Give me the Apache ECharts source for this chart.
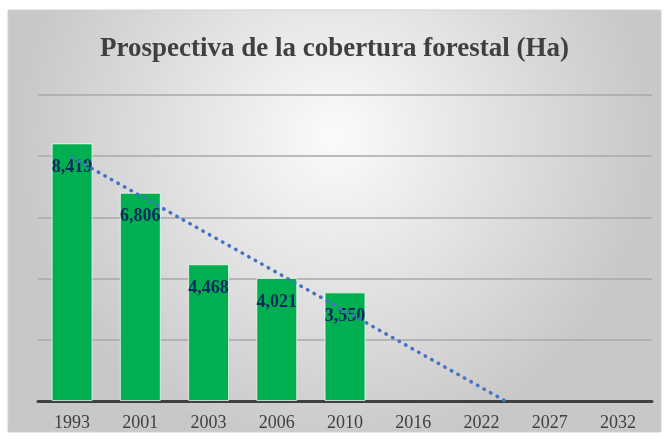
<!DOCTYPE html>
<html>
<head>
<meta charset="utf-8">
<script src="https://cdn.jsdelivr.net/npm/echarts@6/dist/echarts.min.js"></script>
<style>
  html, body { margin: 0; padding: 0; background: #fff; }
  #chart { width: 669px; height: 444px; }
</style>
</head>
<body>
<div id="chart"></div>
<script>
// valores
const years = ['1993', '2001', '2003', '2006', '2010', '2016', '2022', '2027', '2032']
const coverage = [8419, 6806, 4468, 4021, 3550, null, null, null, null]
// linea de tendencia (extremos, en indice de categoria)
const trendX = [0, 6.35]
const trendY = [7960, 0]

const serif = '"Liberation Serif", "DejaVu Serif", serif'
const chart = echarts.init(document.getElementById('chart'))

const option = {
  animation: false,
  title: {
    text: 'Prospectiva de la cobertura forestal (Ha)',
    left: 'center',
    top: 31,
    textStyle: { fontFamily: serif, fontSize: 27, fontWeight: 'bold', color: '#404040' }
  },
  graphic: [{
    type: 'rect',
    z: -10,
    shape: { x: 8, y: 10, width: 653, height: 422 },
    style: {
      fill: {
        type: 'radial', x: 0.5, y: 0.3, r: 0.75,
        colorStops: [{ offset: 0, color: '#fbfbfb' }, { offset: 1, color: '#c8c8c8' }]
      },
      stroke: '#d0d0d0', lineWidth: 1
    }
  }],
  grid: { left: 38, right: 17, top: 95, bottom: 43 },
  xAxis: [{
    type: 'category',
    data: years,
    axisLine: { lineStyle: { color: '#404040', width: 3 } },
    axisTick: { show: false },
    axisLabel: { fontFamily: serif, fontSize: 18, color: '#404040', margin: 13 }
  }, {
    type: 'value',
    min: -0.5,
    max: 8.5,
    show: false
  }],
  yAxis: {
    type: 'value',
    min: 0,
    max: 10000,
    interval: 2000,
    axisLabel: { show: false },
    axisLine: { show: false },
    axisTick: { show: false },
    splitLine: { lineStyle: { color: '#a9a9a9', width: 1.5 } }
  },
  series: [{
    type: 'bar',
    data: coverage,
    barWidth: '60%',
    itemStyle: { color: '#00B050', borderColor: 'rgba(255,255,255,0.7)', borderWidth: 1 },
    label: {
      show: true,
      position: 'insideTop',
      distance: 15,
      fontFamily: serif,
      fontSize: 18,
      fontWeight: 'bold',
      color: '#0D2A5E',
      formatter: p => p.value.toLocaleString('en-US')
    }
  }, {
    type: 'line',
    xAxisIndex: 1,
    data: trendX.map((x, i) => [x, trendY[i]]),
    symbol: 'none',
    z: 5,
    lineStyle: { color: '#4472C4', width: 3.5, type: [0.5, 7], cap: 'round' }
  }]
}

chart.setOption(option)
</script>
</body>
</html>
